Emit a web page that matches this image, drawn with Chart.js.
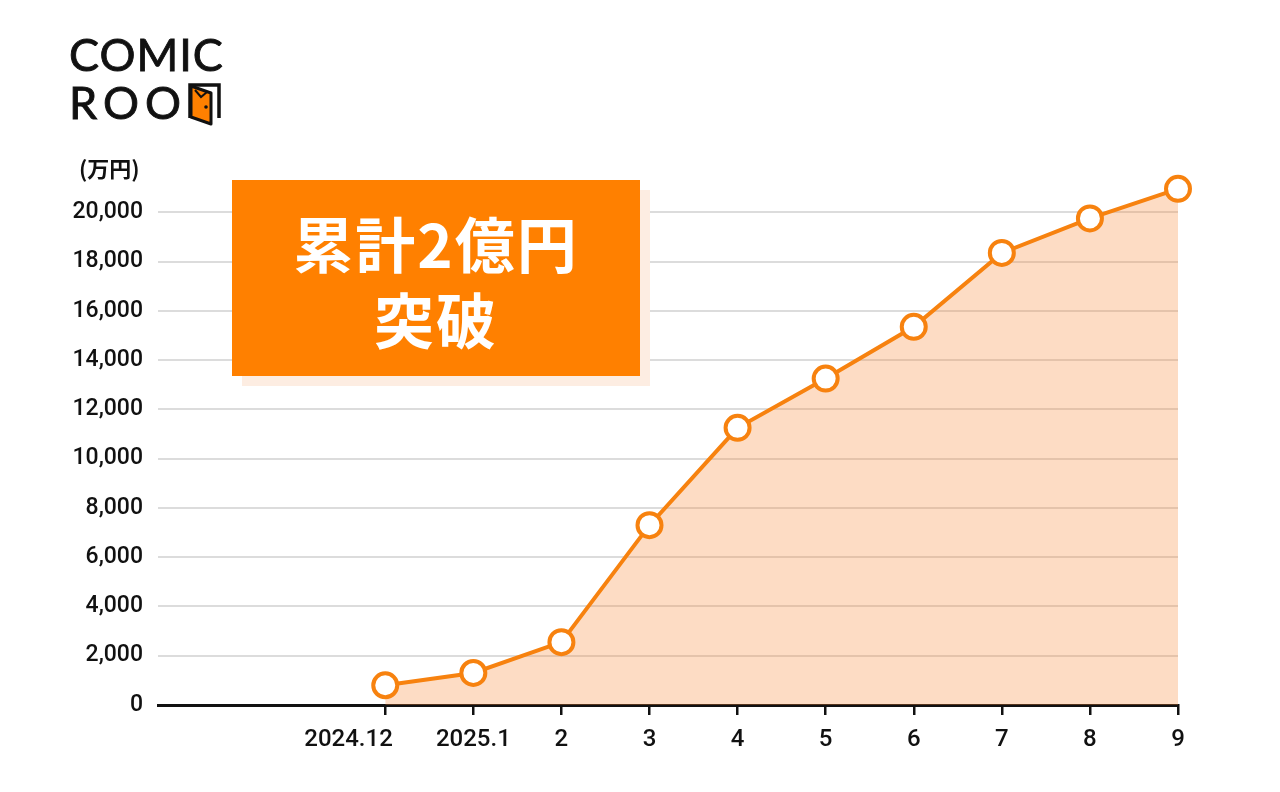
<!DOCTYPE html>
<html lang="ja">
<head>
<meta charset="utf-8">
<script src="https://cdn.jsdelivr.net/npm/chart.js@4.4.1/dist/chart.umd.min.js"></script>
<style>
  html, body { margin: 0; padding: 0; background: #fff; }
  #wrap { position: relative; width: 1280px; height: 792px; overflow: hidden; }
  #chart { position: absolute; left: 0; top: 0; }
  .logo { position: absolute; left: 69px; top: 30px; font-family: 'Lato', sans-serif; font-size: 45px; line-height: 48px; color: #111; letter-spacing: 1px; -webkit-text-stroke: 0.9px #111; }
  .logo .row2 { position: relative; letter-spacing: 6px; }
  .logo svg { position: absolute; left: 118px; top: 4px; }
  .unit { position: absolute; left: 79px; top: 151px; font-family: 'Noto Sans CJK JP', sans-serif; font-weight: 700; font-size: 22px; color: #111; }
  .badge { position: absolute; left: 232px; top: 180px; width: 408px; height: 196px; background: #ff8000; box-shadow: 10px 10px 0 #fdede2; color: #fff; font-family: 'Noto Sans CJK JP', sans-serif; font-weight: 700; font-size: 60px; line-height: 76px; text-align: center; padding-top: 24px; box-sizing: border-box; letter-spacing: 2px; }
</style>
</head>
<body>
<div id="wrap">
  <canvas id="chart" width="1280" height="792"></canvas>
  <div class="logo">
    <div>COMIC</div>
    <div class="row2">ROO<svg width="34" height="45" viewBox="0 0 34 45">
      <polyline points="3,36 3,3 32,3 32,36" fill="none" stroke="#111" stroke-width="3.5"/>
      <polygon points="4,4 24,11 24,42 4,35" fill="#ff8000" stroke="#111" stroke-width="3" stroke-linejoin="round"/>
      <polyline points="8,8 14,15 20,10" fill="none" stroke="#111" stroke-width="2"/>
      <circle cx="19" cy="25" r="1.8" fill="#111"/>
    </svg></div>
  </div>
  <div class="unit">(万円)</div>
  <div class="badge">累計2億円<br>突破</div>
</div>
<script>
  var monthLabels = ['2024.12', '2025.1', '2', '3', '4', '5', '6', '7', '8', '9'];
  var totals = [800, 1300, 2550, 7300, 11250, 13250, 15350, 18350, 19750, 20950];
  var yTicks = [0, 2000, 4000, 6000, 8000, 10000, 12000, 14000, 16000, 18000, 20000];

  var orange = '#f7820f';
  var points = totals.map(function (v, i) { return { x: i, y: v }; });
  var fontFamily = "Roboto, 'Liberation Sans', Arial, sans-serif";

  new Chart(document.getElementById('chart'), {
    type: 'line',
    data: {
      datasets: [{
        data: points,
        borderColor: orange,
        borderWidth: 4,
        backgroundColor: 'rgba(248, 140, 60, 0.3)',
        fill: 'origin',
        tension: 0,
        pointRadius: 12,
        pointHoverRadius: 12,
        pointBorderWidth: 4,
        pointBackgroundColor: '#fff',
        pointBorderColor: orange,
        clip: false
      }]
    },
    options: {
      responsive: false,
      animation: false,
      layout: { padding: { top: 163, right: 102, left: 0, bottom: 0 } },
      plugins: { legend: { display: false }, tooltip: { enabled: false } },
      scales: {
        x: {
          type: 'linear',
          min: -2.58,
          max: 9,
          afterBuildTicks: function (scale) {
            scale.ticks = monthLabels.map(function (l, i) { return { value: i }; });
          },
          afterFit: function (scale) { scale.height = 87; },
          ticks: {
            color: '#111',
            font: { family: fontFamily, size: 24, weight: '500' },
            padding: 11,
            maxRotation: 0,
            autoSkip: false,
            // the first label sits left of its tick in the original
            callback: function (v) { return v === 0 ? monthLabels[v] + '\u2003\u2003\u2003' : monthLabels[v]; }
          },
          grid: { drawOnChartArea: false, drawTicks: true, tickLength: 10, color: '#111', lineWidth: 2.5 },
          border: { display: true, color: '#111', width: 3 }
        },
        y: {
          min: 0,
          max: 22000,
          afterBuildTicks: function (scale) {
            scale.ticks = yTicks.map(function (v) { return { value: v }; });
          },
          afterFit: function (scale) { scale.width = 158; },
          ticks: {
            color: '#111',
            font: { family: fontFamily, size: 23, weight: '500' },
            padding: 15,
            callback: function (v) { return v.toLocaleString('en-US'); }
          },
          grid: { color: '#dcdcdc', lineWidth: 2, drawTicks: false },
          border: { display: false }
        }
      }
    }
  });
</script>
</body>
</html>
